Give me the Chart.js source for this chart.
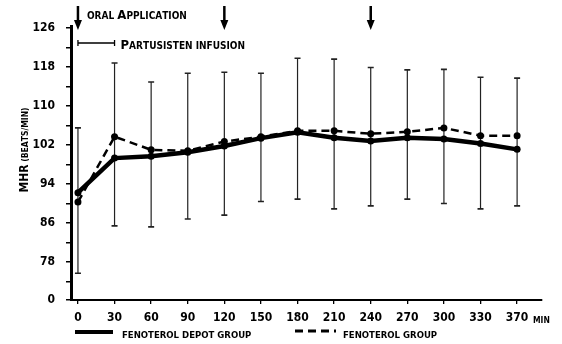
<!DOCTYPE html>
<html>
<head>
<meta charset="utf-8">
<script src="https://cdn.jsdelivr.net/npm/chart.js@4.4.1/dist/chart.umd.min.js"></script>
<style>
  html, body { margin: 0; padding: 0; background: #fff; }
  #wrap { width: 562px; height: 344px; position: relative; }
</style>
</head>
<body>
<div id="wrap"><canvas id="c" width="562" height="344"></canvas></div>
<script>
// ---- data ----
const timeLabels = ['0','30','60','90','120','150','180','210','240','270','300','330','370'];
const depotGroup = [92.2, 99.3, 99.7, 100.5, 101.8, 103.4, 104.6, 103.5, 102.8, 103.5, 103.2, 102.3, 101.1];
const fenoterolGroup = [90.3, 103.7, 101.0, 100.8, 102.7, 103.7, 104.9, 104.9, 104.3, 104.7, 105.5, 103.9, 103.9];
const errUpper = [105.5, 118.8, 114.9, 116.7, 116.9, 116.7, 119.8, 119.6, 117.9, 117.4, 117.5, 115.9, 115.7];
const errLower = [75.7, 85.4, 85.2, 86.8, 87.6, 90.4, 90.9, 88.9, 89.5, 90.9, 90.0, 88.9, 89.5];
const yTickValues = [74, 78, 82, 86, 90, 94, 98, 102, 106, 110, 114, 118, 122, 126];
const yLabelled = [78, 86, 94, 102, 110, 118, 126];
const yBreakLabel = '0';
const arrowAtIndex = [0, 4, 8];       // oral application at 0, 120, 240 min
const infusionSpan = [0, 1];          // partusisten infusion 0 - 30 min
const seriesNames = ['FENOTEROL DEPOT GROUP', 'FENOTEROL GROUP'];

const Y_MIN = 70.2, Y_MAX = 126.4;
const FAM = '"DejaVu Sans Condensed", "DejaVu Sans", sans-serif';

function capsWidth(ctx, text, big, small) {
  let w = 0;
  for (const ch of text) {
    ctx.font = 'bold ' + (ch !== ch.toLowerCase() ? big : small) + 'px ' + FAM;
    w += ctx.measureText(ch.toUpperCase()).width;
  }
  return w;
}
function drawCaps(ctx, text, x, y, big, small) {
  // uppercase chars drawn big, lowercase drawn as small capitals
  let cx = x;
  ctx.textAlign = 'left';
  ctx.textBaseline = 'alphabetic';
  for (const ch of text) {
    const isBig = ch !== ch.toLowerCase();
    ctx.font = 'bold ' + (isBig ? big : small) + 'px ' + FAM;
    const c = ch.toUpperCase();
    ctx.fillText(c, cx, y);
    cx += ctx.measureText(c).width;
  }
  return cx;
}

const overlay = {
  id: 'overlay',
  beforeDatasetsDraw(chart) {
    const ctx = chart.ctx, xs = chart.scales.x, ys = chart.scales.y;
    ctx.save();
    ctx.strokeStyle = '#222';
    for (let i = 0; i < timeLabels.length; i++) {
      const x = xs.getPixelForValue(i);
      const t = ys.getPixelForValue(errUpper[i]);
      const b = ys.getPixelForValue(errLower[i]);
      ctx.lineWidth = 1.2;
      ctx.beginPath(); ctx.moveTo(x, t); ctx.lineTo(x, b); ctx.stroke();
      ctx.lineWidth = 1.6;
      ctx.beginPath(); ctx.moveTo(x - 3, t); ctx.lineTo(x + 3, t);
      ctx.moveTo(x - 3, b); ctx.lineTo(x + 3, b); ctx.stroke();
    }
    ctx.restore();
  },
  afterDraw(chart) {
    const ctx = chart.ctx, xs = chart.scales.x;
    ctx.save();
    ctx.fillStyle = '#000';
    ctx.strokeStyle = '#000';
    // arrows
    for (const idx of arrowAtIndex) {
      const x = xs.getPixelForValue(idx);
      ctx.lineWidth = 2.5;
      ctx.beginPath(); ctx.moveTo(x, 6); ctx.lineTo(x, 22); ctx.stroke();
      ctx.beginPath(); ctx.moveTo(x - 4, 20); ctx.lineTo(x + 4, 20); ctx.lineTo(x, 30); ctx.closePath(); ctx.fill();
    }
    // oral application text
    drawCaps(ctx, 'oral Application', xs.getPixelForValue(arrowAtIndex[0]) + 9, 19, 13, 10);
    // infusion bracket
    const bx0 = xs.getPixelForValue(infusionSpan[0]), bx1 = xs.getPixelForValue(infusionSpan[1]);
    ctx.lineWidth = 1.3;
    ctx.beginPath();
    ctx.moveTo(bx0, 43); ctx.lineTo(bx1, 43);
    ctx.moveTo(bx0, 40); ctx.lineTo(bx0, 46);
    ctx.moveTo(bx1, 40); ctx.lineTo(bx1, 46);
    ctx.stroke();
    drawCaps(ctx, 'Partusisten infusion', bx1 + 6, 49, 13, 10);
    // y title
    ctx.save();
    ctx.translate(28, 150);
    ctx.rotate(-Math.PI / 2);
    const title = 'MHR (beats/min)';
    const tw = capsWidth(ctx, title, 12, 8.5);
    drawCaps(ctx, title, -tw / 2, 0, 12, 8.5);
    ctx.restore();
    // MIN
    drawCaps(ctx, 'min', 533, 323, 9, 8.5);
    // legend
    ctx.lineWidth = 4;
    ctx.setLineDash([]);
    ctx.beginPath(); ctx.moveTo(75, 332); ctx.lineTo(113, 332); ctx.stroke();
    drawCaps(ctx, seriesNames[0].toLowerCase(), 122, 338, 9, 9.5);
    ctx.lineWidth = 3;
    ctx.setLineDash([8, 5]);
    ctx.beginPath(); ctx.moveTo(295, 331); ctx.lineTo(336, 331); ctx.stroke();
    ctx.setLineDash([]);
    drawCaps(ctx, seriesNames[1].toLowerCase(), 343, 338, 9, 9.5);
    ctx.restore();
  }
};

new Chart(document.getElementById('c'), {
  type: 'line',
  data: {
    datasets: [
      {
        label: seriesNames[0],
        data: depotGroup.map((v, i) => ({ x: i, y: v })),
        borderColor: '#000', backgroundColor: '#000',
        borderWidth: 4.5, pointRadius: 3.5, pointBackgroundColor: '#000', pointBorderWidth: 0,
        tension: 0, order: 2
      },
      {
        label: seriesNames[1],
        data: fenoterolGroup.map((v, i) => ({ x: i, y: v })),
        borderColor: '#000', backgroundColor: '#000',
        borderWidth: 2.5, borderDash: [8, 5], pointRadius: 3.5, pointBackgroundColor: '#000', pointBorderWidth: 0,
        tension: 0, order: 1
      }
    ]
  },
  options: {
    responsive: false,
    animation: false,
    layout: { padding: { top: 26, right: 20, left: 0, bottom: 0 } },
    plugins: { legend: { display: false }, tooltip: { enabled: false } },
    scales: {
      x: {
        type: 'linear',
        min: -0.19, max: 12.68,
        afterBuildTicks(scale) { scale.ticks = timeLabels.map((_, i) => ({ value: i })); },
        afterFit(scale) { scale.height = 44; },
        ticks: {
          color: '#000', padding: 7, maxRotation: 0, autoSkip: false,
          font: { family: FAM, size: 12, weight: 'bold' },
          callback: (v) => timeLabels[v] !== undefined ? timeLabels[v] : ''
        },
        grid: { drawOnChartArea: false, drawTicks: true, tickLength: 4, color: '#000', lineWidth: 1.3 },
        border: { display: true, color: '#000', width: 2 }
      },
      y: {
        min: Y_MIN, max: Y_MAX,
        afterBuildTicks(scale) { scale.ticks = [Y_MIN].concat(yTickValues).map(v => ({ value: v })); },
        afterFit(scale) { scale.width = 71; },
        ticks: {
          color: '#000', padding: 11, autoSkip: false,
          font: { family: FAM, size: 12, weight: 'bold' },
          callback: (v) => v === Y_MIN ? yBreakLabel : (yLabelled.includes(v) ? String(v) : '')
        },
        grid: { drawOnChartArea: false, drawTicks: true, tickLength: 5, color: '#000', lineWidth: 1.5 },
        border: { display: true, color: '#000', width: 3 }
      }
    }
  },
  plugins: [overlay]
});
</script>
</body>
</html>
